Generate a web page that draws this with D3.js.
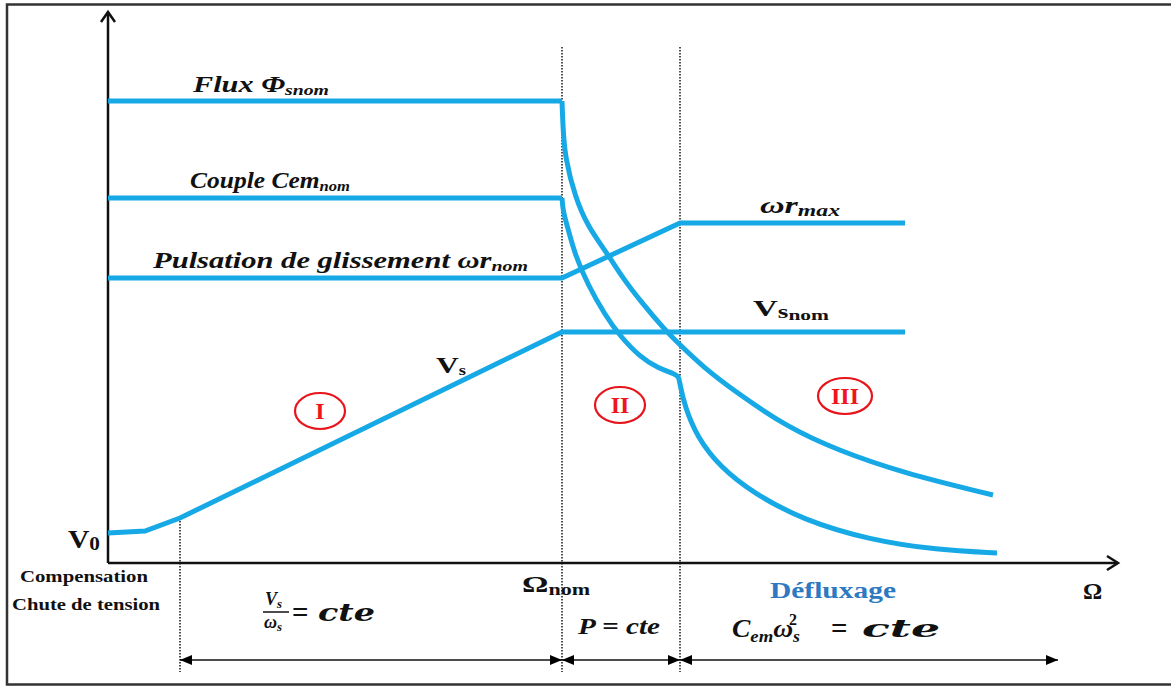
<!DOCTYPE html>
<html>
<head>
<meta charset="utf-8">
<script src="https://cdn.jsdelivr.net/npm/d3@7"></script>
<style>
  body { margin: 0; background: #fff; }
  text { font-family: "Liberation Serif", "Times New Roman", serif; }
  text.math { font-family: "DejaVu Serif", serif; }
</style>
</head>
<body>
<div id="chart-area"></div>
<script>
// ---- data (Ω on x, amplitude on y, arbitrary units) ----
var breaks = [7.2, 45.4, 57.2];          // end of compensation, Ωnom, start of zone III
var arrowEnd = 95;                        // end of last dimension arrow
var regions = ["I", "II", "III"];
var regionPos = [[21.2, 15.2], [51.2, 15.8], [73.7, 16.7]];

var vsPts = [[0, 3.0], [3.7, 3.2], [7.2, 4.5], [45.4, 23.1], [79.7, 23.1]];
var wrPts = [[0, 28.5], [45.4, 28.5], [57.2, 34.0], [79.7, 34.0]];
var fluxFlat = [[0, 46.2], [45.4, 46.2]];
var fluxCurve = [[45.4, 46.2], [45.5, 43.5], [45.7, 40.6], [46.7, 36.6], [48.0, 33.6], [49.9, 31.0], [51.4, 28.6],
                 [53.4, 26.0], [55.7, 23.3], [57.0, 22.0], [59.5, 19.6], [62.9, 17.0], [67.9, 13.6],
                 [72.9, 11.3], [79.5, 9.0], [88.5, 6.8]];
var coupleFlat = [[0, 36.5], [45.4, 36.5]];
var coupleCurve = [[45.4, 36.5], [45.5, 35.2], [45.9, 33.8], [46.7, 30.8], [48.0, 27.8], [49.7, 24.8], [51.2, 22.7],
                   [53.2, 20.6], [55.0, 19.5], [56.7, 18.9], [57.1, 18.6], [57.2, 17.8], [57.7, 15.6], [58.9, 12.6],
                   [61.2, 9.6], [64.5, 7.0], [69.5, 4.3], [76.2, 2.3], [82.9, 1.3], [88.9, 1.0]];

// ---- drawing ----
var W = 1171, H = 689;
var blue = "#17a9e6";

var svg = d3.select("#chart-area").append("svg")
    .attr("width", W)
    .attr("height", H);

var x = d3.scaleLinear().domain([0, 101]).range([108, 1118]);
var y = d3.scaleLinear().domain([0, 55.3]).range([563, 10]);

var defs = svg.append("defs");
defs.append("marker")
    .attr("id", "tri")
    .attr("viewBox", "0 0 12 10")
    .attr("refX", 12).attr("refY", 5)
    .attr("markerWidth", 12).attr("markerHeight", 10)
    .attr("markerUnits", "userSpaceOnUse")
    .attr("orient", "auto-start-reverse")
  .append("path")
    .attr("d", "M0,0 L12,5 L0,10 Z")
    .attr("fill", "#000");

// frame
svg.append("rect")
    .attr("x", 7).attr("y", 4.5)
    .attr("width", 1180).attr("height", 680)
    .attr("fill", "none")
    .attr("stroke", "#333")
    .attr("stroke-width", 2.5);

// dotted guides
svg.selectAll(".guide")
    .data(breaks)
  .enter().append("line")
    .attr("class", "guide")
    .attr("x1", function(d) { return x(d); })
    .attr("x2", function(d) { return x(d); })
    .attr("y1", function(d, i) { return i == 0 ? y(4.5) : 47; })
    .attr("y2", 672)
    .attr("stroke", "#222")
    .attr("stroke-width", 1.6)
    .attr("stroke-dasharray", "1.5,1.5");

// axes
svg.append("line")
    .attr("x1", x(0)).attr("y1", y(0))
    .attr("x2", x(0)).attr("y2", 12)
    .attr("stroke", "#111").attr("stroke-width", 2.5);
svg.append("path")
    .attr("d", "M" + (x(0) - 7) + ",22 L" + x(0) + ",12 L" + (x(0) + 7) + ",22")
    .attr("fill", "none").attr("stroke", "#111").attr("stroke-width", 2.5);
svg.append("line")
    .attr("x1", x(0)).attr("y1", y(0))
    .attr("x2", x(101)).attr("y2", y(0))
    .attr("stroke", "#111").attr("stroke-width", 2.5);
svg.append("path")
    .attr("d", "M" + (x(101) - 11) + "," + (y(0) - 7) + " L" + x(101) + "," + y(0) + " L" + (x(101) - 11) + "," + (y(0) + 7))
    .attr("fill", "none").attr("stroke", "#111").attr("stroke-width", 2.5);

// curves
var lineStraight = d3.line()
    .x(function(d) { return x(d[0]); })
    .y(function(d) { return y(d[1]); });
var lineSmooth = d3.line()
    .x(function(d) { return x(d[0]); })
    .y(function(d) { return y(d[1]); })
    .curve(d3.curveBasis);

[fluxFlat, coupleFlat, wrPts, vsPts].forEach(function(pts) {
  svg.append("path")
      .attr("d", lineStraight(pts))
      .attr("fill", "none")
      .attr("stroke", blue)
      .attr("stroke-width", 5);
});
[fluxCurve, coupleCurve].forEach(function(pts) {
  svg.append("path")
      .attr("d", lineSmooth(pts))
      .attr("fill", "none")
      .attr("stroke", blue)
      .attr("stroke-width", 5);
});

// region circles
var reg = svg.selectAll(".reg")
    .data(regions)
  .enter().append("g")
    .attr("class", "reg")
    .attr("transform", function(d, i) { return "translate(" + x(regionPos[i][0]) + "," + y(regionPos[i][1]) + ")"; });
reg.append("ellipse")
    .attr("rx", function(d) { return d == "III" ? 27 : 25; })
    .attr("ry", 18)
    .attr("fill", "none")
    .attr("stroke", "#e8141b")
    .attr("stroke-width", 2.2);
reg.append("text")
    .attr("y", 8)
    .attr("text-anchor", "middle")
    .attr("font-size", "24px")
    .attr("font-weight", "bold")
    .attr("fill", "#f0141b")
    .text(function(d) { return d; });

// labels: parts = [text, size, dy, italic]
function label(px, py, parts, opts) {
  opts = opts || {};
  var t = svg.append("text")
      .attr("x", px).attr("y", py)
      .attr("class", opts.cls || null)
      .attr("font-weight", "bold")
      .attr("fill", opts.fill || "#111");
  if (opts.len) t.attr("textLength", opts.len).attr("lengthAdjust", "spacingAndGlyphs");
  parts.forEach(function(p) {
    t.append("tspan")
        .attr("font-size", p[1] + "px")
        .attr("dy", p[2] || 0)
        .attr("font-style", p[3] ? "italic" : "normal")
        .text(p[0]);
  });
  return t;
}

label(193, 92, [["Flux \u03A6", 23, 0, 1], ["snom", 15, 3, 1]], {len: 136});
label(190, 188, [["Couple Cem", 23, 0, 1], ["nom", 15, 3, 1]], {len: 160});
label(153, 268, [["Pulsation de glissement  \u03C9r", 23, 0, 1], ["nom", 15, 3, 1]], {len: 375});
label(760, 213, [["\u03C9r", 23, 0, 1], ["max", 16, 3, 1]], {len: 80});
label(753, 316, [["V", 24, 0, 0], ["s", 19, 2, 0], ["nom", 15, 2, 0]], {len: 76});
label(436, 373, [["V", 24, 0, 0], ["s", 14, 2, 0]], {len: 30});
label(68, 548, [["V", 25, 0, 0], ["0", 18, 2, 0]], {len: 32});
label(20, 582, [["Compensation", 16, 0, 0]], {len: 128});
label(12, 610, [["Chute de tension", 16, 0, 0]], {len: 148});
label(522, 592, [["\u03A9", 24, 0, 0], ["nom", 16, 3, 0]], {len: 68});
label(770, 598, [["D\u00E9fluxage", 23, 0, 0]], {fill: "#2e79c0", len: 126});
label(1083, 599, [["\u03A9", 24, 0, 0]]);

// fraction Vs / ωs = cte
label(265, 605, [["V", 18, 0, 1], ["s", 13, 3, 1]]);
svg.append("line")
    .attr("x1", 263).attr("x2", 289)
    .attr("y1", 612).attr("y2", 612)
    .attr("stroke", "#111").attr("stroke-width", 1.5);
label(264, 628, [["\u03C9", 18, 0, 1], ["s", 13, 3, 1]]);
label(292, 622, [["=", 29, 0, 0]]);
label(318, 621, [["cte", 24, 0, 1]], {len: 57, cls: "math"});
label(578, 634, [["P = cte", 23, 0, 1]], {len: 82});
label(732, 637, [["C", 25, 0, 1], ["em", 17, 5, 1], ["\u03C9", 25, -5, 1], ["s", 16, 5, 1]], {len: 68});
label(789, 625, [["2", 16, 0, 0]]);
label(831, 638, [["=", 29, 0, 0]]);
label(862, 637, [["cte", 24, 0, 1]], {len: 78, cls: "math"});

// dimension arrows
var spans = [[breaks[0], breaks[1]], [breaks[1], breaks[2]], [breaks[2], arrowEnd]];
svg.selectAll(".dim")
    .data(spans)
  .enter().append("line")
    .attr("class", "dim")
    .attr("x1", function(d) { return x(d[0]); })
    .attr("x2", function(d) { return x(d[1]); })
    .attr("y1", 660).attr("y2", 660)
    .attr("stroke", "#111")
    .attr("stroke-width", 1.5)
    .attr("marker-start", "url(#tri)")
    .attr("marker-end", "url(#tri)");
</script>
</body>
</html>
